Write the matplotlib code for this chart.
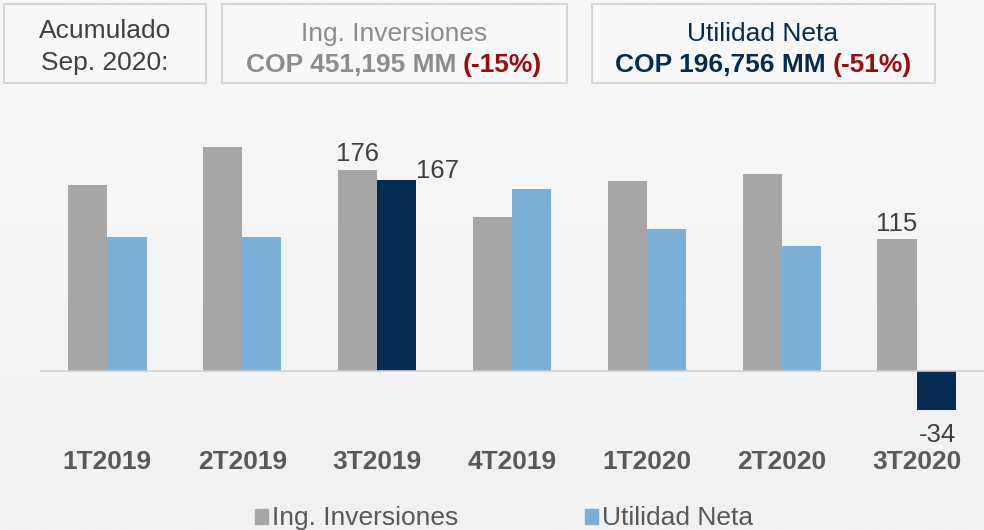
import numpy as np
import matplotlib.pyplot as plt
from matplotlib.patches import Rectangle
from matplotlib.offsetbox import AnchoredOffsetbox, TextArea, HPacker

plt.rcParams['font.family'] = ['Liberation Sans', 'DejaVu Sans']

periodos = ["1T2019", "2T2019", "3T2019", "4T2019", "1T2020", "2T2020", "3T2020"]
ing_inversiones = [163, 196, 176, 135, 166, 172, 115]
utilidad_neta = [117, 117, 167, 159, 124, 109, -34]

gris = "#a6a6a6"
azul = "#7bafd5"
navy = "#052b51"
rojo = "#9b0d0d"

fig = plt.figure(figsize=(9.84, 5.30), dpi=100)

# fondo con degradado vertical
bg = fig.add_axes([0, 0, 1, 1], zorder=-10)
grad = np.linspace(0, 1, 256).reshape(-1, 1)
bg.imshow(grad, aspect="auto", cmap=plt.matplotlib.colors.LinearSegmentedColormap.from_list(
    "g", ["#f8f8f8", "#f1f1f1"]), extent=[0, 1, 0, 1], origin="upper")
bg.set_axis_off()

W, H = 984, 530
ax = fig.add_axes([40 / W, 1 - 420 / H, 944 / W, 320 / H])
ax.set_facecolor("none")

x = np.arange(len(periodos))
w = 0.29
col_util = [azul] * len(periodos)
col_util[2] = navy
col_util[6] = navy
ax.bar(x - w / 2, ing_inversiones, w, color=gris, label="Ing. Inversiones")
ax.bar(x + w / 2, utilidad_neta, w, color=col_util, label="Utilidad Neta")

ax.set_xlim(-0.5, 6.5)
ax.set_ylim(-43, 237)
ax.axhline(0, color="#d0d0d0", lw=1.2)
for s in ax.spines.values():
    s.set_visible(False)
ax.set_yticks([])
ax.set_xticks([])

lab = dict(color="#404040", fontsize=18.5)
ax.text(x[2] - w / 2, ing_inversiones[2] + 3, str(ing_inversiones[2]), ha="center", va="bottom", **lab)
ax.text(x[2] + w, utilidad_neta[2] + 8, str(utilidad_neta[2]), ha="left", va="center", **lab)
ax.text(x[6] - w / 2, ing_inversiones[6] + 3, str(ing_inversiones[6]), ha="center", va="bottom", **lab)
ax.text(x[6] + w, utilidad_neta[6] - 12, str(utilidad_neta[6]), ha="right", va="top", clip_on=False, **lab)

for xi, p in zip(x, periodos):
    fig.text((40 + (xi + 0.5) * 944 / 7) / W, 1 - 462 / H, p, ha="center", va="center",
             fontsize=19, fontweight="bold", color="#595959")

# leyenda
fig.patches.append(Rectangle((255 / W, 1 - 524 / H), 13 / W, 15 / H, color=gris, transform=fig.transFigure))
fig.text(272 / W, 1 - 518 / H, "Ing. Inversiones", ha="left", va="center", fontsize=19, color="#595959")
fig.patches.append(Rectangle((585 / W, 1 - 524 / H), 13 / W, 15 / H, color=azul, transform=fig.transFigure))
fig.text(602 / W, 1 - 518 / H, "Utilidad Neta", ha="left", va="center", fontsize=19, color="#595959")

# cajas superiores
for x0, x1 in [(4, 206), (222, 567), (592, 935)]:
    fig.patches.append(Rectangle((x0 / W, 1 - 83 / H), (x1 - x0) / W, 79 / H, facecolor="#f8f8f8",
                                 edgecolor="#d6d6d6", lw=1.5, transform=fig.transFigure))

fig.text(105 / W, 1 - 31 / H, "Acumulado", ha="center", va="center", fontsize=19, color="#404040")
fig.text(105 / W, 1 - 63 / H, "Sep. 2020:", ha="center", va="center", fontsize=19, color="#404040")

fig.text(394 / W, 1 - 34 / H, "Ing. Inversiones", ha="center", va="center", fontsize=19, color="#8c8c8c")
fig.text(763 / W, 1 - 34 / H, "Utilidad Neta", ha="center", va="center", fontsize=19, color=navy)


def linea(xc, yc, t1, c1, t2):
    a = TextArea(t1, textprops=dict(fontsize=19, fontweight="bold", color=c1))
    b = TextArea(t2, textprops=dict(fontsize=19, fontweight="bold", color=rojo))
    box = HPacker(children=[a, b], align="center", pad=0, sep=5)
    ab = AnchoredOffsetbox(loc="center", child=box, pad=0, frameon=False,
                           bbox_to_anchor=(xc / W, 1 - yc / H), bbox_transform=fig.transFigure,
                           borderpad=0)
    fig.add_artist(ab)


linea(394, 65, "COP 451,195 MM", "#8c8c8c", "(-15%)")
linea(763, 65, "COP 196,756 MM", navy, "(-51%)")

fig.savefig("out.png", dpi=100)
